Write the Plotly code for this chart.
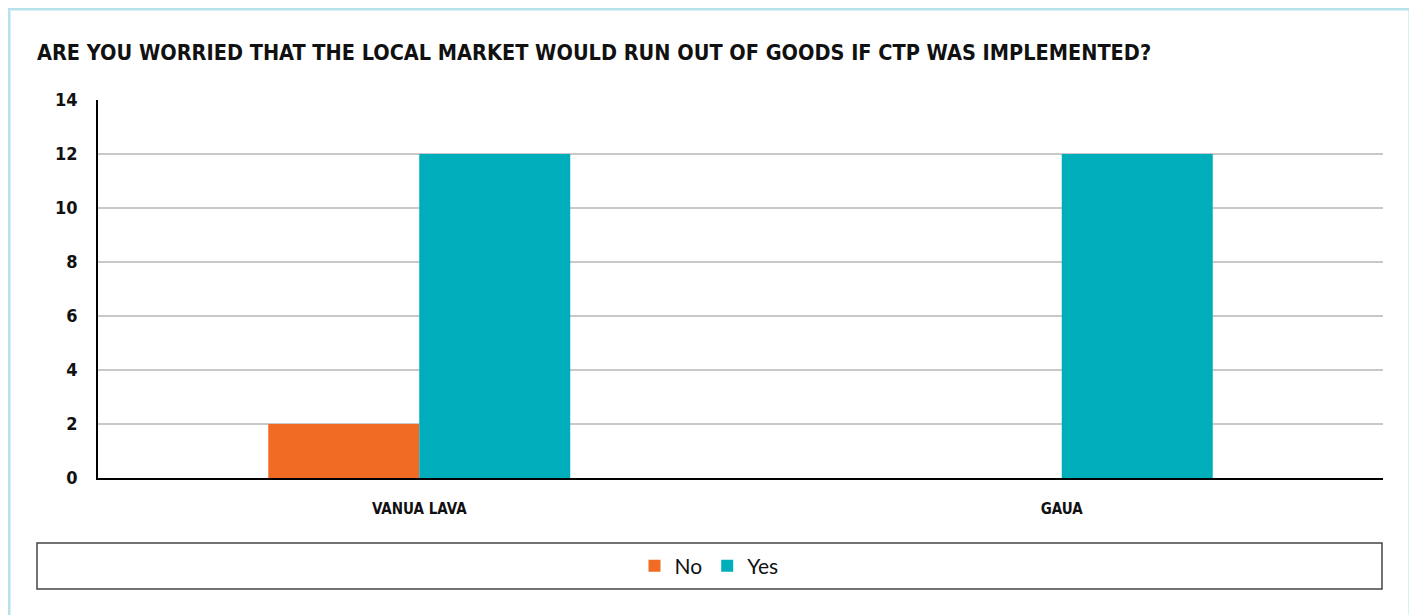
import plotly.graph_objects as go

categories = ["VANUA LAVA", "GAUA"]
no_values = [2, 0]
yes_values = [12, 12]
series_names = ["No", "Yes"]
title_text = "ARE YOU WORRIED THAT THE LOCAL MARKET WOULD RUN OUT OF GOODS IF CTP WAS IMPLEMENTED?"

COND = "DejaVu Sans Condensed, DejaVu Sans, sans-serif"

fig = go.Figure()
fig.add_trace(go.Bar(name=series_names[0], x=categories, y=no_values, marker_color="#f26b25", marker_line_width=0))
fig.add_trace(go.Bar(name=series_names[1], x=categories, y=yes_values, marker_color="#00adbb", marker_line_width=0))

OFF = 8  # page body margin
W, H = 1417 - OFF, 615 - OFF
L, R, T, B = 98 - OFF, 1383 - OFF, 100 - OFF, 478 - OFF
pw, ph = R - L, B - T

def px2x(px):
    return (px - OFF - L) / pw

def py2y(py):
    return (B - (py - OFF)) / ph

fig.update_layout(
    width=W, height=H,
    margin=dict(l=L, r=W - R, t=T, b=H - B),
    paper_bgcolor="white", plot_bgcolor="white",
    barmode="group", bargap=0.53, bargroupgap=0,
    title=dict(text="<b>" + title_text + "</b>", x=(37 - OFF) / W, xanchor="left", xref="container",
               y=1 - (52 - OFF) / H, yanchor="middle", yref="container",
               font=dict(family=COND, size=21.5, color="#111")),
    showlegend=True,
    legend=dict(orientation="h", x=px2x(709), xanchor="center", y=py2y(566), yanchor="middle",
                font=dict(family="Lato, Open Sans, sans-serif", size=21, color="#111"),
                bgcolor="rgba(0,0,0,0)", itemwidth=30, traceorder="normal"),
    xaxis=dict(showline=True, linecolor="black", linewidth=1.5, showgrid=False,
               tickfont=dict(family=COND, size=15, color="#111"), ticks="", ticklabelstandoff=16,
               tickprefix="<b>", ticksuffix="</b>"),
    yaxis=dict(range=[0, 14], dtick=2, showline=True, linecolor="black", linewidth=1.5,
               showgrid=True, gridcolor="#c8c8c8", gridwidth=1.5, zeroline=False,
               tickfont=dict(family=COND, size=18, color="#111"), ticks="", ticklabelstandoff=15,
               tickprefix="<b>", ticksuffix="</b>"),
    shapes=[
        dict(type="rect", xref="paper", yref="paper",
             x0=px2x(9), x1=px2x(1410), y0=py2y(9), y1=py2y(640),
             line=dict(color="#b6e2ec", width=3), fillcolor="rgba(0,0,0,0)", layer="below"),
        dict(type="rect", xref="paper", yref="paper",
             x0=px2x(37), x1=px2x(1382), y0=py2y(543), y1=py2y(589),
             line=dict(color="#444", width=1.5), fillcolor="rgba(0,0,0,0)"),
    ],
)

fig.write_html("out.html")
